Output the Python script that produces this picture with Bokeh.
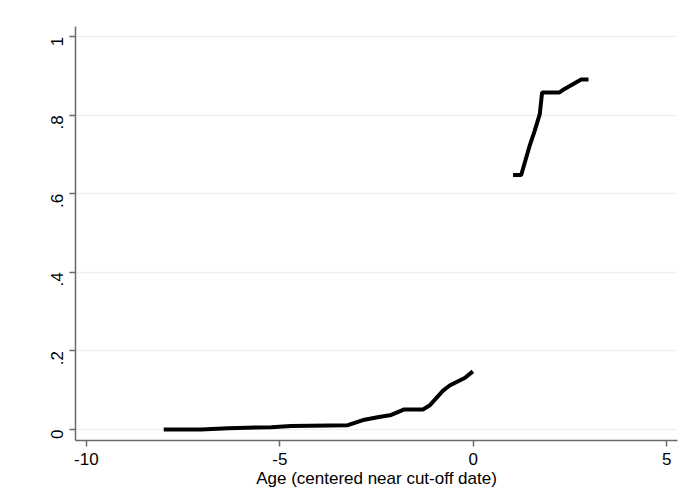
import math
from bokeh.plotting import figure
from bokeh.models import FixedTicker
from bokeh.embed import file_html
from bokeh.resources import INLINE

# Left of cut-off
x_left = [-8.0, -7.03, -6.34, -5.22, -4.71, -3.24, -2.81, -2.47, -2.12, -1.78, -1.30, -1.13, -0.78, -0.61, -0.22, -0.01]
y_left = [0.0, 0.0, 0.003, 0.006, 0.009, 0.011, 0.025, 0.031, 0.037, 0.051, 0.051, 0.061, 0.099, 0.112, 0.131, 0.148]
# Right of cut-off
x_right = [1.03, 1.24, 1.46, 1.59, 1.72, 1.78, 2.23, 2.36, 2.79, 2.98]
y_right = [0.648, 0.648, 0.723, 0.761, 0.803, 0.858, 0.858, 0.867, 0.891, 0.891]

x_ticks = [-10, -5, 0, 5]
x_tick_labels = ["-10", "-5", "0", "5"]
y_ticks = [0, 0.2, 0.4, 0.6, 0.8, 1]
y_tick_labels = ["0", ".2", ".4", ".6", ".8", "1"]
x_title = "Age (centered near cut-off date)"

FONT = "Liberation Sans"

p = figure(width=687, height=502, output_backend="svg", toolbar_location=None,
           x_range=(-10.28, 5.28), y_range=(-0.028, 1.026),
           min_border_left=75, min_border_right=10, min_border_top=26, min_border_bottom=62)
p.outline_line_color = None
p.background_fill_color = "white"
p.border_fill_color = "white"

p.line(x_left, y_left, line_color="black", line_width=4)
p.line(x_right, y_right, line_color="black", line_width=4)

# grid
p.xgrid.grid_line_color = None
p.ygrid.grid_line_color = "#EAF2F3"
p.ygrid.grid_line_width = 1.5
p.ygrid.ticker = FixedTicker(ticks=y_ticks)

# x axis
p.xaxis.ticker = FixedTicker(ticks=x_ticks)
p.xaxis.major_label_overrides = {t: l for t, l in zip(x_ticks, x_tick_labels)}
p.xaxis.axis_label = x_title
p.xaxis.axis_label_text_font = FONT
p.xaxis.axis_label_text_font_style = "normal"
p.xaxis.axis_label_text_font_size = "17px"
p.xaxis.axis_label_standoff = 1
p.xaxis.major_label_text_font = FONT
p.xaxis.major_label_text_font_size = "17px"
p.xaxis.major_label_standoff = 6

# y axis
p.yaxis.ticker = FixedTicker(ticks=y_ticks)
p.yaxis.major_label_overrides = {t: l for t, l in zip(y_ticks, y_tick_labels)}
p.yaxis.major_label_orientation = math.pi / 2
p.yaxis.major_label_text_font = FONT
p.yaxis.major_label_text_font_size = "17px"
p.yaxis.major_label_standoff = 12

for ax in (p.xaxis, p.yaxis):
    ax.axis_line_color = "#6a6a6a"
    ax.axis_line_width = 1.5
    ax.major_tick_line_color = "#6a6a6a"
    ax.major_tick_line_width = 1.5
    ax.major_tick_out = 6
    ax.major_tick_in = 0
    ax.minor_tick_line_color = None
    ax.major_label_text_color = "black"
    ax.axis_label_text_color = "black"

open("out.html", "w").write(file_html(p, INLINE))
